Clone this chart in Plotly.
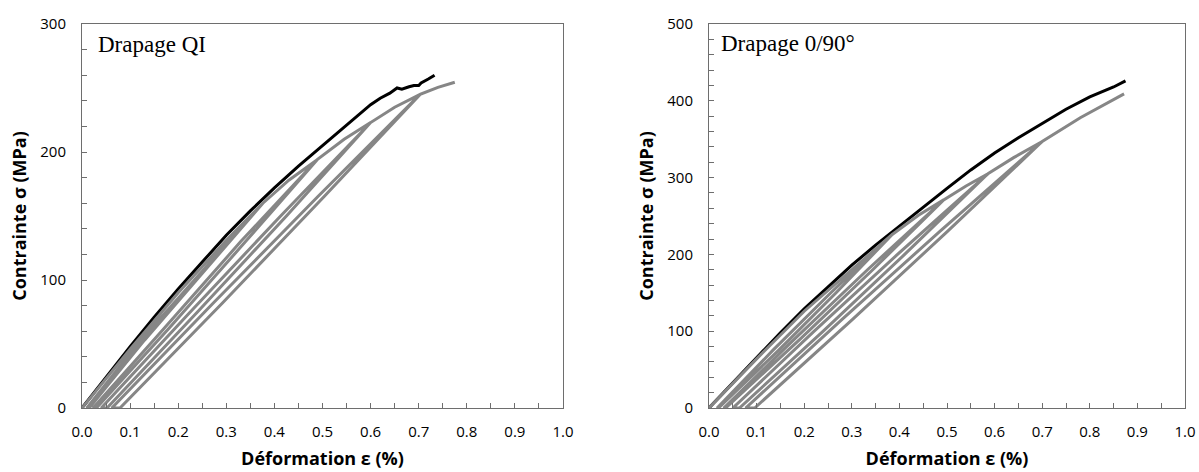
import plotly.graph_objects as go
from plotly.subplots import make_subplots

# ---------------- Data: Drapage QI ----------------
qi_black_x = [0, 0.05, 0.10, 0.15, 0.20, 0.25, 0.30, 0.35, 0.40, 0.45, 0.50, 0.55,
              0.58, 0.60, 0.62, 0.64, 0.655, 0.665, 0.68, 0.69, 0.70, 0.705, 0.72, 0.733]
qi_black_y = [0, 24, 48, 71, 93, 114, 135, 154, 172, 189, 205, 221,
              231, 237, 242, 246, 250, 249, 251, 252, 252, 254, 257, 260]

qi_gray_x = [0, 0.10, 0.20, 0.30, 0.376,
             0.25, 0.13, 0.015, 0.010, 0.12, 0.245, 0.376,
             0.43, 0.489,
             0.34, 0.18, 0.030, 0.023, 0.17, 0.33, 0.489,
             0.545, 0.60,
             0.425, 0.24, 0.052, 0.040, 0.225, 0.413, 0.60,
             0.65, 0.703,
             0.503, 0.292, 0.079, 0.062, 0.273, 0.49, 0.703,
             0.74, 0.775]
qi_gray_y = [0, 46, 90, 131, 160,
             105, 53, 0, 0, 52, 105, 160,
             178, 194,
             130, 62, 0, 0, 62, 130, 194,
             210, 223,
             150, 75, 0, 0, 75, 150, 223,
             235, 245,
             165, 82, 0, 0, 82, 165, 245,
             250.5, 254.5]

# ---------------- Data: Drapage 0/90° ----------------
cp_black_x = [0, 0.05, 0.10, 0.15, 0.20, 0.25, 0.30, 0.35, 0.40, 0.45, 0.50,
              0.55, 0.60, 0.65, 0.70, 0.75, 0.80, 0.85, 0.875]
cp_black_y = [0, 33, 66, 98, 129, 158, 186, 212, 237, 262, 286,
              310, 332, 352, 371, 389, 405, 418, 426]

cp_gray_x = [0, 0.10, 0.20, 0.30, 0.385,
             0.267, 0.146, 0.020, 0.017, 0.134, 0.256, 0.385,
             0.44, 0.493,
             0.344, 0.192, 0.035, 0.031, 0.18, 0.333, 0.493,
             0.54, 0.586,
             0.411, 0.24, 0.064, 0.050, 0.221, 0.396, 0.586,
             0.64, 0.70,
             0.501, 0.301, 0.096, 0.077, 0.279, 0.485, 0.70,
             0.78, 0.872]
cp_gray_y = [0, 64, 126, 180, 226,
             150, 75, 0, 0, 75, 150, 226,
             251, 271,
             180, 90, 0, 0, 90, 180, 271,
             289, 305,
             200, 100, 0, 0, 100, 200, 305,
             326, 347,
             230, 115, 0, 0, 115, 230, 347,
             378, 409]

panel_labels = ["Drapage QI", "Drapage 0/90°"]
x_title = "Déformation ε (%)"
y_title = "Contrainte σ (MPa)"

# ---------------- Figure ----------------
fig = make_subplots(rows=1, cols=2)

BLACK = "#000000"
GRAY = "#868686"
LW = 3

fig.add_trace(go.Scatter(x=qi_black_x, y=qi_black_y, mode="lines",
                         line=dict(color=BLACK, width=LW)), row=1, col=1)
fig.add_trace(go.Scatter(x=qi_gray_x, y=qi_gray_y, mode="lines",
                         line=dict(color=GRAY, width=LW)), row=1, col=1)
fig.add_trace(go.Scatter(x=cp_black_x, y=cp_black_y, mode="lines",
                         line=dict(color=BLACK, width=LW)), row=1, col=2)
fig.add_trace(go.Scatter(x=cp_gray_x, y=cp_gray_y, mode="lines",
                         line=dict(color=GRAY, width=LW)), row=1, col=2)

W, H = 1199, 472
ydom = [1 - 408 / H, 1 - 24 / H]

tickfont = dict(family="Open Sans, sans-serif", size=15, color="#000")
titlefont = dict(family="Open Sans, sans-serif", size=18, color="#000", weight="bold")
axcolor = "#6e6e6e"

common_x = dict(range=[0, 1.0], dtick=0.1, tick0=0, tickformat=".1f",
                ticks="inside", ticklen=5, tickcolor=axcolor,
                minor=dict(dtick=0.05, tick0=0, ticks="inside", ticklen=5, tickcolor=axcolor),
                showline=True, linecolor=axcolor, linewidth=1, mirror=True,
                showgrid=False, zeroline=False, tickfont=tickfont,
                ticklabelstandoff=10,
                title=dict(text=x_title, font=titlefont, standoff=12),
                automargin=False)

fig.update_xaxes(domain=[82 / W, 563 / W], row=1, col=1, **common_x)
fig.update_xaxes(domain=[709 / W, 1185 / W], row=1, col=2, **common_x)

common_y = dict(ticks="inside", ticklen=5, tickcolor=axcolor,
                showline=True, linecolor=axcolor, linewidth=1, mirror=True,
                showgrid=False, zeroline=False, tickfont=tickfont,
                ticklabelstandoff=12,
                title=dict(text=y_title, font=titlefont, standoff=8),
                automargin=False, domain=ydom)

fig.update_yaxes(range=[0, 300], dtick=100,
                 minor=dict(dtick=20, ticks="inside", ticklen=5, tickcolor=axcolor),
                 row=1, col=1, **common_y)
fig.update_yaxes(range=[0, 500], dtick=100,
                 minor=dict(dtick=20, ticks="inside", ticklen=5, tickcolor=axcolor),
                 row=1, col=2, **common_y)

labelfont = dict(family="Liberation Serif, DejaVu Serif, serif", size=23, color="#000")
fig.add_annotation(x=0.03, y=284, xref="x", yref="y", text=panel_labels[0],
                   showarrow=False, xanchor="left", yanchor="middle", font=labelfont)
fig.add_annotation(x=0.02, y=474, xref="x2", yref="y2", text=panel_labels[1],
                   showarrow=False, xanchor="left", yanchor="middle", font=labelfont)

fig.update_layout(width=W, height=H, margin=dict(l=0, r=0, t=0, b=0),
                  paper_bgcolor="white", plot_bgcolor="white", showlegend=False)

fig.write_html("out.html",
               config={"displayModeBar": False},
               post_script="document.body.style.margin='0px';document.body.style.overflow='hidden';")
